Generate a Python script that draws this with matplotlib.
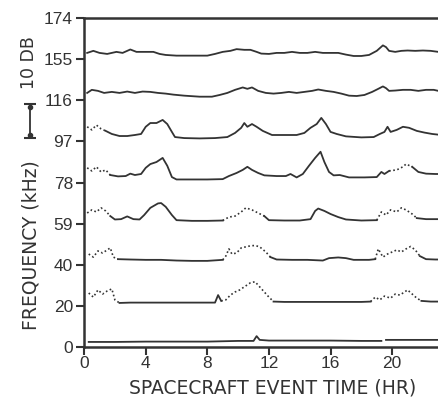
import numpy as np
import matplotlib
matplotlib.use('Agg')
from matplotlib import pyplot as plt
from matplotlib import transforms

plt.rcParams['font.family'] = ['DejaVu Sans']

INK = '#333333'

# channel frequencies (kHz), one trace per channel, stacked evenly
channels = ['0', '20', '40', '59', '78', '97', '116', '155', '174']
DB_PER_CHANNEL = 12.0

# receiver level above each channel baseline (dB) vs event time (hr)
t_0 = [0.3, 2, 4, 6, 8, 10, 11.0, 11.2, 11.4, 12, 14, 16, 18, 19.3, 19.45, 19.6, 21, 23, 23.6]
db_0 = [1.4, 1.4, 1.5, 1.5, 1.5, 1.7, 1.7, 3.1, 2.0, 1.8, 1.8, 1.8, 1.7, 1.7, np.nan, 2.0, 2.0, 2.0, 2.0]

t_20 = [0.3, 0.6, 0.9, 1.2, 1.5, 1.8, 2.0, 2.3, 3, 4, 5, 6, 7, 8, 8.5, 8.7, 8.9, 9.2, 9.5, 9.8,
        10.1, 10.4, 10.8, 11.1, 11.4, 11.7, 12.0, 12.3, 13, 14, 15, 16, 17, 18, 18.6, 18.9, 19.2,
        19.5, 19.9, 20.2, 20.5, 20.8, 21.0, 21.3, 21.6, 21.9, 22.5, 23.5]
db_20 = [3.7, 2.5, 4.6, 3.4, 4.3, 4.9, 1.7, 0.8, 0.9, 0.9, 0.9, 0.9, 0.9, 0.9, 0.9, 3.1, 1.4, 1.7, 3.1, 4.0,
         4.6, 5.5, 6.7, 7.0, 5.5, 4.0, 2.5, 1.2, 1.1, 1.1, 1.1, 1.1, 1.1, 1.1, 1.2, 2.5, 1.7,
         2.8, 2.2, 3.4, 3.1, 4.0, 4.6, 3.4, 2.2, 1.4, 1.2, 1.2]

t_40 = [0.3, 0.6, 0.9, 1.2, 1.5, 1.7, 1.9, 2.2, 3, 4, 5, 6, 7, 8, 9, 9.2, 9.4, 9.6, 9.9, 10.2,
        10.5, 10.8, 11.1, 11.4, 11.8, 12.1, 12.5, 13.5, 14.5, 15.5, 15.9, 16.5, 17.0, 17.5, 18.5,
        18.9, 19.1, 19.4, 19.7, 20.0, 20.3, 20.6, 20.9, 21.2, 21.5, 21.8, 22.2, 22.8, 23.5]
db_40 = [3.1, 2.2, 4.0, 3.4, 4.3, 4.9, 2.2, 1.6, 1.5, 1.4, 1.4, 1.2, 1.1, 1.1, 1.4, 2.5, 4.6, 3.1, 3.4, 4.9,
         5.2, 5.5, 5.6, 5.2, 3.7, 2.2, 1.5, 1.4, 1.4, 1.2, 1.9, 2.1, 1.9, 1.4, 1.4,
         1.6, 4.6, 2.2, 3.1, 3.7, 4.3, 3.7, 4.6, 5.3, 4.3, 2.5, 1.6, 1.5, 1.5]

t_59 = [0.2, 0.5, 0.8, 1.1, 1.4, 1.7, 2.0, 2.4, 2.8, 3.2, 3.6, 3.9, 4.3, 4.8, 5.0, 5.3, 5.7, 6.0, 7, 8,
        9.0, 9.4, 9.8, 10.2, 10.5, 10.9, 11.3, 11.7, 12.0, 13, 14, 14.7, 15.0, 15.2, 15.6, 16.0,
        16.5, 17.0, 18, 19.0, 19.3, 19.6, 19.9, 20.3, 20.6, 20.9, 21.3, 21.6, 22.2, 22.8, 23.5]
db_59 = [3.1, 4.0, 3.4, 4.6, 3.7, 2.2, 1.2, 1.3, 2.1, 1.3, 1.2, 2.5, 4.6, 5.9, 6.0, 4.9, 2.5, 1.0, 0.8, 0.8,
         0.9, 1.9, 2.2, 3.4, 4.6, 4.0, 3.1, 2.2, 1.0, 0.9, 0.9, 1.3, 3.7, 4.4, 3.7, 2.8,
         1.9, 1.2, 0.9, 1.0, 3.4, 2.5, 4.0, 3.4, 4.6, 4.0, 2.8, 1.6, 1.3, 1.3, 1.3]

t_78 = [0.2, 0.5, 0.8, 1.1, 1.4, 1.7, 2.2, 2.7, 3.0, 3.3, 3.7, 4.0, 4.3, 4.7, 5.1, 5.4, 5.7, 6.0, 7, 8,
        9, 9.4, 9.9, 10.3, 10.6, 10.9, 11.3, 11.7, 12.5, 13.1, 13.4, 13.8, 14.2, 14.6, 15.0, 15.35,
        15.6, 15.9, 16.2, 16.6, 17.2, 18.2, 19.0, 19.3, 19.5, 19.8, 20.3, 20.7, 20.9, 21.3, 21.7,
        22.2, 22.8, 23.5]
db_78 = [4.3, 3.4, 4.6, 3.1, 3.7, 2.2, 1.8, 1.9, 2.6, 2.2, 2.5, 4.3, 5.4, 6.0, 7.2, 4.9, 1.6, 0.9, 0.9, 0.9,
         1.0, 1.9, 2.8, 3.7, 4.6, 3.7, 2.8, 2.1, 1.9, 1.9, 2.5, 1.5, 2.5, 4.9, 7.2, 9.0,
         6.0, 3.1, 2.1, 2.2, 1.5, 1.5, 1.6, 3.1, 2.5, 3.4, 3.7, 4.6, 5.4, 4.6, 3.1,
         2.6, 2.5, 2.5]

t_97 = [0.2, 0.5, 0.8, 1.1, 1.4, 1.8, 2.3, 2.8, 3.3, 3.7, 4.0, 4.3, 4.7, 5.1, 5.4, 5.7, 5.9, 6.5, 7.5, 8.5,
        9.3, 9.8, 10.2, 10.4, 10.6, 10.9, 11.2, 11.6, 12.2, 13, 13.8, 14.3, 14.7, 15.1, 15.4, 15.7,
        16.0, 16.4, 17, 18, 18.8, 19.2, 19.5, 19.7, 19.9, 20.3, 20.7, 21.1, 21.6, 22.1, 22.6, 23.2, 23.6]
db_97 = [4.3, 3.4, 4.8, 3.7, 3.1, 2.2, 1.6, 1.6, 1.9, 2.2, 4.3, 5.4, 5.4, 6.3, 5.1, 2.8, 1.3, 1.0, 0.9, 1.0,
         1.3, 2.5, 4.0, 5.4, 4.3, 5.1, 4.3, 3.1, 1.9, 1.9, 1.9, 2.5, 4.0, 5.1, 6.9, 5.1,
         2.8, 2.2, 1.5, 1.2, 1.3, 2.2, 2.8, 4.3, 2.8, 3.4, 4.3, 4.0, 3.1, 2.6, 2.2, 1.9, 1.9]

t_116 = [0.2, 0.5, 0.9, 1.3, 1.8, 2.3, 2.8, 3.3, 3.8, 4.3, 4.8, 5.3, 5.8, 6.5, 7.5, 8.3, 8.8, 9.3, 9.8, 10.3,
         10.6, 10.9, 11.3, 11.8, 12.3, 12.8, 13.3, 13.8, 14.3, 14.8, 15.2, 15.7, 16.2, 16.7, 17.2,
         17.7, 18.2, 18.7, 19.1, 19.4, 19.6, 19.8, 20.2, 20.7, 21.2, 21.7, 22.2, 22.7, 23.2, 23.6]
db_116 = [2.2, 3.1, 2.8, 2.2, 2.5, 2.2, 2.6, 2.2, 2.6, 2.5, 2.2, 2.0, 1.7, 1.4, 1.1, 1.1, 1.6, 2.2, 3.1, 3.8,
          3.4, 3.8, 2.8, 2.2, 2.0, 2.2, 2.5, 2.2, 2.5, 2.8, 3.2, 2.8, 2.5, 2.0, 1.4,
          1.3, 1.6, 2.5, 3.4, 4.1, 3.6, 2.8, 2.9, 3.1, 3.1, 2.8, 3.1, 3.1, 2.6, 2.8]

t_155 = [0.2, 0.6, 1.0, 1.5, 2.1, 2.5, 3.0, 3.4, 3.9, 4.5, 4.9, 5.3, 6, 7, 8, 8.5, 9.0, 9.5, 9.9, 10.4,
         10.8, 11.2, 11.5, 12, 12.5, 13, 13.5, 14, 14.5, 15, 15.5, 16, 16.5, 17, 17.5, 18, 18.5,
         19, 19.4, 19.6, 19.8, 20.2, 20.6, 21, 21.5, 22, 22.5, 23, 23.5]
db_155 = [1.9, 2.5, 1.9, 1.6, 2.2, 1.9, 2.9, 2.2, 2.2, 2.2, 1.6, 1.3, 1.1, 1.1, 1.1, 1.6, 2.2, 2.5, 3.0, 2.8,
          2.8, 2.2, 1.7, 1.6, 1.9, 1.9, 2.2, 1.9, 1.9, 2.2, 1.9, 1.9, 1.9, 1.4, 1.0, 1.0, 1.3,
          2.5, 4.1, 3.6, 2.5, 2.2, 2.5, 2.6, 2.5, 2.6, 2.5, 2.2, 2.2]

# time spans (hr) where the receiver output is scattered rather than steady
noisy_20 = [(0, 2.0), (9.1, 12.1), (18.8, 21.7)]
noisy_40 = [(0, 1.9), (9.1, 12.0), (19.0, 21.6)]
noisy_59 = [(0, 1.6), (9.3, 11.6), (19.2, 21.4)]
noisy_78 = [(0, 1.5), (20.2, 21.2)]
noisy_97 = [(0, 1.2)]

traces = [(t_0, db_0, []), (t_20, db_20, noisy_20), (t_40, db_40, noisy_40),
          (t_59, db_59, noisy_59), (t_78, db_78, noisy_78), (t_97, db_97, noisy_97),
          (t_116, db_116, []), (t_155, db_155, [])]

fig = plt.figure(figsize=(4.38, 3.99), dpi=100)
# axes run past the right edge of the figure, so the last hours are cut off
ax = fig.add_axes([0.192, 0.131, 0.844, 0.823])

for i, (t, db, spans) in enumerate(traces):
    t = np.asarray(t)
    level = i + np.asarray(db) / DB_PER_CHANNEL
    noisy = np.zeros(len(t), bool)
    for a, b in spans:
        noisy |= (t >= a) & (t <= b)
    # dotted pieces reach one sample into the steady part so the trace stays joined
    near = noisy.copy()
    near[1:] |= noisy[:-1]
    near[:-1] |= noisy[1:]
    ax.plot(t, np.where(noisy, np.nan, level), color=INK, lw=1.3)
    if noisy.any():
        ax.plot(t, np.where(near, level, np.nan), color=INK, lw=1.2, ls=(0, (1, 1.5)))

ax.set_xlim(0, 24)
ax.set_ylim(0, 8)
ax.set_xticks([0, 4, 8, 12, 16, 20])
ax.set_xticklabels(['0', '4', '8', '12', '16', '20'])
ax.set_yticks(range(len(channels)))
ax.set_yticklabels(channels, family=['Liberation Sans'])
for lab in ax.get_xticklabels():
    lab.set_family(['Liberation Sans'])

for side in ['left', 'bottom', 'top']:
    ax.spines[side].set_linewidth(1.8)
    ax.spines[side].set_color(INK)
ax.spines['right'].set_visible(False)
ax.tick_params(axis='both', colors=INK, labelsize=12.5, length=6, width=1.5, pad=2,
               direction='out')
ax.tick_params(axis='x', pad=1)

# 10 dB scale bar
trans = transforms.blended_transform_factory(ax.transAxes, ax.transData)
y0 = 5.08
y1 = y0 + 10 / DB_PER_CHANNEL
ax.plot([-0.146, -0.146], [y0, y1], color=INK, lw=1.3, transform=trans, clip_on=False)
ax.plot([-0.146, -0.146], [y0, y1], ls='none', marker='_', ms=9, mew=1.5, color=INK,
        transform=trans, clip_on=False)
ax.plot([-0.146, -0.146], [y0 + 0.08, y1 - 0.08], ls='none', marker='o', ms=3, color=INK,
        transform=trans, clip_on=False)
fig.text(29 / 438, 1 - 63 / 399, '10 DB', rotation=90, ha='center', va='center',
         fontsize=12.5, color=INK)

fig.text(31 / 438, 1 - 245 / 399, 'FREQUENCY (kHz)', rotation=90, ha='center',
         va='center', fontsize=13.5, color=INK)
fig.text(273 / 438, 1 - 388 / 399, 'SPACECRAFT EVENT TIME (HR)', ha='center',
         va='center', fontsize=13.5, color=INK)

fig.savefig('out.png', dpi=100, facecolor='white')
